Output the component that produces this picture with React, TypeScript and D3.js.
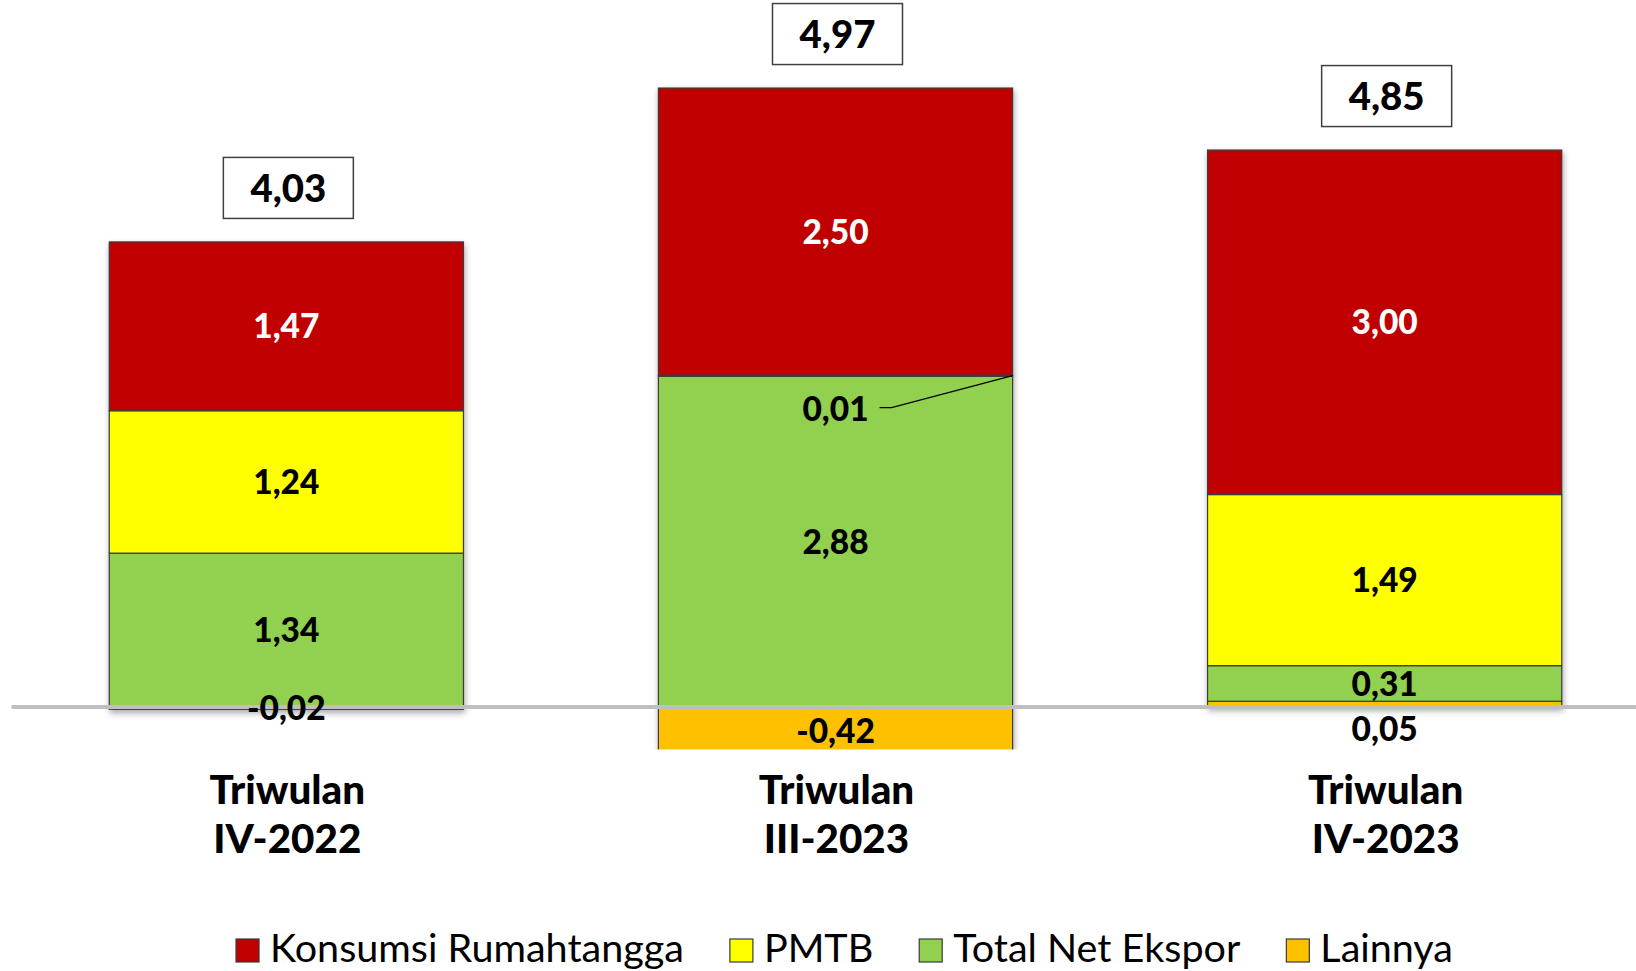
import React, { useMemo } from "react";
import * as d3 from "d3";

// ---- data ----
const catLine1 = ["Triwulan", "Triwulan", "Triwulan"];
const catLine2 = ["IV-2022", "III-2023", "IV-2023"];
const konsumsi = [1.47, 2.5, 3.0];
const pmtb = [1.24, 0.01, 1.49];
const netEkspor = [1.34, 2.88, 0.31];
const lainnya = [-0.02, -0.42, 0.05];
const totals = [4.03, 4.97, 4.85];
const seriesNames = ["Konsumsi Rumahtangga", "PMTB", "Total Net Ekspor", "Lainnya"];
const seriesColors = ["#C00000", "#FFFF00", "#92D050", "#FFC000"];
const seriesValues = [konsumsi, pmtb, netEkspor, lainnya];

const W = 1636;
const H = 971;
const FONT = "Lato, Carlito, Calibri, 'DejaVu Sans', sans-serif";
const BOLD = 900;

const locale = d3.formatLocale({
  decimal: ",",
  thousands: ".",
  grouping: [3],
  currency: ["", ""],
  minus: "-",
});
const fmt = locale.format(".2f");

let canvasCtx: CanvasRenderingContext2D | null = null;
function measure(text: string, weight: string | number, size: number) {
  if (!canvasCtx) canvasCtx = document.createElement("canvas").getContext("2d");
  canvasCtx!.font = `${weight} ${size}px Lato`;
  return canvasCtx!.measureText(text).width;
}
function fitSize(text: string, weight: string | number, target: number) {
  const base = 40;
  return (base * target) / measure(text, weight, base);
}

export default function App() {
  const layout = useMemo(() => {
    const x = d3
      .scaleBand<string>()
      .domain(catLine2)
      .range([11.5, 1659.5])
      .paddingInner(0.355)
      .paddingOuter(0.178);
    const y = d3.scaleLinear().domain([-0.37, 6.0]).range([749.5, 18.0]);

    // stacking order bottom -> top
    const stackOrder = [3, 2, 1, 0];
    const rows = catLine2.map((c, i) => {
      const r: any = { cat: c };
      seriesNames.forEach((s, k) => (r[s] = seriesValues[k][i]));
      return r;
    });
    const stacked = d3
      .stack<any>()
      .keys(stackOrder.map((k) => seriesNames[k]))
      .offset(d3.stackOffsetDiverging)(rows);

    const dataSize = fitSize("1,34", BOLD, 63.6) * 1.04;
    const boxSize = fitSize("4,03", BOLD, 73) * 1.04;
    const catSize = fitSize("Triwulan", BOLD, 151) * 1.03;
    const legSize = fitSize("Konsumsi Rumahtangga", "normal", 414);

    return { x, y, stacked, dataSize, boxSize, catSize, legSize };
  }, []);

  const { x, y, stacked, dataSize, boxSize, catSize, legSize } = layout;
  const bw = x.bandwidth();
  const y0 = y(0);
  const SMALL = 12;

  // bars
  const bars = catLine2.map((c, i) => (
    <g key={c} filter="url(#shadow)">
      {stacked.map((layer) => {
        const d = layer[i];
        const k = seriesNames.indexOf(layer.key);
        const top = y(Math.max(d[0], d[1]));
        const bot = y(Math.min(d[0], d[1]));
        return (
          <rect
            key={layer.key}
            x={x(c)!}
            y={top}
            width={bw}
            height={Math.max(0, bot - top)}
            fill={seriesColors[k]}
            stroke="#3a3a3a"
            strokeWidth={1.2}
          />
        );
      })}
    </g>
  ));

  // data labels
  const labels: any[] = [];
  catLine2.forEach((c, i) => {
    const cx = x(c)! + bw / 2;
    stacked.forEach((layer) => {
      const d = layer[i];
      const k = seriesNames.indexOf(layer.key);
      const v = seriesValues[k][i];
      const top = y(Math.max(d[0], d[1]));
      const bot = y(Math.min(d[0], d[1]));
      const mid = (top + bot) / 2;
      const h = bot - top;
      const txt = fmt(v);
      let ly = mid;
      let leader: any = null;
      if (h < SMALL && v > 0) {
        if (Math.abs(y(d[0]) - y0) < 0.5) {
          // tiny positive segment at the base: label below the axis
          ly = y0 + 22;
        } else {
          // tiny middle segment: label displaced with a leader line
          ly = mid + 33;
          const tw = measure(txt, BOLD, dataSize);
          const sx = cx + tw / 2 + 11;
          leader = (
            <polyline
              key={`ld-${c}-${k}`}
              points={`${sx},${ly - 1} ${sx + 12},${ly - 1} ${x(c)! + bw},${mid}`}
              fill="none"
              stroke="#000"
              strokeWidth={1.3}
            />
          );
        }
      }
      labels.push(
        <text
          key={`t-${c}-${k}`}
          x={cx}
          y={ly}
          dy="0.36em"
          textAnchor="middle"
          fontFamily={FONT}
          fontWeight={BOLD}
          fontSize={dataSize}
          fill={k === 0 ? "#FFFFFF" : "#000000"}
        >
          {txt}
        </text>
      );
      if (leader) labels.push(leader);
    });
  });

  // total boxes
  const boxW = 130;
  const boxH = 61;
  const boxes = catLine2.map((c, i) => {
    const posSum = seriesValues.reduce((s, arr) => s + Math.max(0, arr[i]), 0);
    const cx = x(c)! + bw / 2 + 2;
    const cy = y(posSum) - 54;
    return (
      <g key={`b-${c}`}>
        <rect
          x={cx - boxW / 2}
          y={cy - boxH / 2}
          width={boxW}
          height={boxH}
          fill="#fff"
          stroke="#404040"
          strokeWidth={1.5}
        />
        <text
          x={cx}
          y={cy}
          dy="0.36em"
          textAnchor="middle"
          fontFamily={FONT}
          fontWeight={BOLD}
          fontSize={boxSize}
          fill="#000"
        >
          {fmt(totals[i])}
        </text>
      </g>
    );
  });

  // category labels
  const cats = catLine2.map((c, i) => {
    const cx = x(c)! + bw / 2 + 1;
    return (
      <text
        key={`c-${c}`}
        textAnchor="middle"
        fontFamily={FONT}
        fontWeight={BOLD}
        fontSize={catSize}
        fill="#000"
      >
        <tspan x={cx} y={804}>
          {catLine1[i]}
        </tspan>
        <tspan x={cx} y={853}>
          {catLine2[i]}
        </tspan>
      </text>
    );
  });

  // legend
  const sq = 23;
  const gapText = 11;
  const gapItem = 46;
  const widths = seriesNames.map((s) => measure(s, "normal", legSize));
  const total =
    widths.reduce((a, b) => a + b, 0) + seriesNames.length * (sq + gapText) + (seriesNames.length - 1) * gapItem;
  let lx = 844.5 - total / 2;
  const legend = seriesNames.map((s, k) => {
    const gx = lx;
    lx += sq + gapText + widths[k] + gapItem;
    return (
      <g key={`l-${s}`}>
        <rect x={gx} y={939} width={sq} height={sq} fill={seriesColors[k]} stroke="#3a3a3a" strokeWidth={1.2} />
        <text x={gx + sq + gapText} y={962} fontFamily={FONT} fontSize={legSize} fill="#000">
          {s}
        </text>
      </g>
    );
  });

  return (
    <div style={{ position: "absolute", left: 0, top: 0, width: W, height: H, overflow: "hidden", background: "#fff" }}>
      <svg width={W} height={H} viewBox={`0 0 ${W} ${H}`} style={{ display: "block" }}>
        <defs>
          <filter id="shadow" x="-10%" y="-10%" width="125%" height="130%">
            <feDropShadow dx="1" dy="3" stdDeviation="3" floodColor="#000" floodOpacity="0.35" />
          </filter>
          <clipPath id="plotClip">
            <rect x={0} y={0} width={W} height={y.range()[0]} />
          </clipPath>
        </defs>
        <rect x={0} y={0} width={W} height={H} fill="#fff" />
        <g clipPath="url(#plotClip)">{bars}</g>
        <line x1={x.range()[0]} x2={x.range()[1]} y1={y0} y2={y0} stroke="#BFBFBF" strokeWidth={4} />
        {labels}
        {boxes}
        {cats}
        {legend}
      </svg>
    </div>
  );
}
